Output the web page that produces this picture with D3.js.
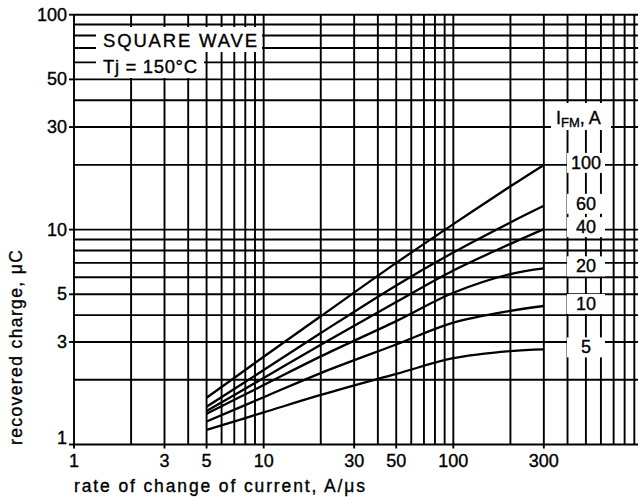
<!DOCTYPE html>
<html><head><meta charset="utf-8">
<script src="https://cdn.jsdelivr.net/npm/d3@7"></script>
<style>
body{margin:0;background:#fff}
svg text{font-family:"Liberation Sans",Arial,Helvetica,sans-serif;fill:#000;stroke:#000;stroke-width:0.35px}
</style>
</head><body>
<svg id="c" width="638" height="498"></svg>
<script>
// ---- data ----
const rate = [5, 10, 20, 50, 100, 200, 300];            // A/us
const currentLabels = ["100", "60", "40", "20", "10", "5"]; // I_FM, A
const q100 = [1.65, 2.56, 3.95, 7.0, 10.6, 15.9, 20.0];
const q60  = [1.50, 2.22, 3.30, 5.5, 7.83, 10.8, 12.9];
const q40  = [1.43, 2.04, 2.91, 4.6, 6.45, 8.58, 10.05];
const q20  = [1.39, 1.89, 2.57, 3.75, 5.08, 6.21, 6.6];
const q10  = [1.28, 1.66, 2.15, 2.92, 3.69, 4.19, 4.41];
const q5   = [1.17, 1.41, 1.70, 2.13, 2.52, 2.72, 2.77];
const xTickLabels = [1, 3, 5, 10, 30, 50, 100, 300];
const yTickLabels = [1, 3, 5, 10, 30, 50, 100];

const seriesValues = [q100, q60, q40, q20, q10, q5];

const svg = d3.select("#c");
const x = d3.scaleLog().domain([1, 1000]).range([74, 643]);
const y = d3.scaleLog().domain([1, 100]).range([444.5, 14.7]);

// grid values
const xGrid = [];
for (let d = 1; d <= 100; d *= 10) for (let k = 1; k <= 9; k++) xGrid.push(d * k);
const yGrid = [];
for (let d = 1; d <= 10; d *= 10) for (let k = 1; k <= 9; k++) yGrid.push(d * k);
yGrid.push(100);

const g = svg.append("g");
g.selectAll("line.v").data(xGrid).join("line")
  .attr("x1", d => x(d)).attr("x2", d => x(d))
  .attr("y1", y(100)).attr("y2", y(1))
  .attr("stroke", "#000").attr("stroke-width", 1.9);
g.selectAll("line.h").data(yGrid).join("line")
  .attr("x1", x(1)).attr("x2", x(1000))
  .attr("y1", d => y(d)).attr("y2", d => y(d))
  .attr("stroke", "#000").attr("stroke-width", 1.9);

// ticks
g.selectAll("line.yt").data(yTickLabels).join("line")
  .attr("x1", x(1) - 5).attr("x2", x(1))
  .attr("y1", d => y(d)).attr("y2", d => y(d))
  .attr("stroke", "#000").attr("stroke-width", 1.9);
g.selectAll("line.xt").data(xTickLabels).join("line")
  .attr("x1", d => x(d)).attr("x2", d => x(d))
  .attr("y1", y(1)).attr("y2", y(1) + 4)
  .attr("stroke", "#000").attr("stroke-width", 1.9);

// white boxes behind annotation text
svg.append("rect").attr("x", 96).attr("y", 27).attr("width", 166).attr("height", 25).attr("fill", "#fff");
svg.append("rect").attr("x", 96).attr("y", 52).attr("width", 108).attr("height", 26).attr("fill", "#fff");
svg.append("text").attr("x", 103).attr("y", 46.5).attr("font-size", 18.5)
  .attr("textLength", 154).attr("lengthAdjust", "spacing").text("SQUARE WAVE");
svg.append("text").attr("x", 103).attr("y", 73).attr("font-size", 18.5)
  .attr("textLength", 94).attr("lengthAdjust", "spacing").text("Tj = 150°C");

// curves
const line = d3.line().x((d, i) => x(rate[i])).y(d => y(d)).curve(d3.curveCatmullRom.alpha(0.5));
svg.append("g").selectAll("path").data(seriesValues).join("path")
  .attr("d", d => line(d)).attr("fill", "none")
  .attr("stroke", "#000").attr("stroke-width", 2.3);

// curve labels
const labX = 586;
svg.append("rect").attr("x", 551).attr("y", 103).attr("width", 60).attr("height", 27).attr("fill", "#fff");
const ifm = svg.append("text").attr("x", 556).attr("y", 123.5).attr("font-size", 18);
ifm.append("tspan").text("I");
ifm.append("tspan").attr("font-size", 13).attr("dy", 3).text("FM");
ifm.append("tspan").attr("dy", -3).text(", A");

const lab = svg.append("g").selectAll("g").data(seriesValues).join("g");
lab.append("rect")
  .attr("x", labX - 19).attr("width", 38).attr("height", 20)
  .attr("y", d => y(d[d.length - 1]) - 12).attr("fill", "#fff");
lab.append("text")
  .attr("x", labX).attr("y", d => y(d[d.length - 1]) - 2)
  .attr("dominant-baseline", "central").attr("text-anchor", "middle")
  .attr("font-size", 18).text((d, i) => currentLabels[i]);

// tick labels
svg.append("g").selectAll("text").data(xTickLabels).join("text")
  .attr("x", d => x(d)).attr("y", 467).attr("text-anchor", "middle")
  .attr("font-size", 18).text(d => d);
svg.append("g").selectAll("text").data(yTickLabels).join("text")
  .attr("x", 67).attr("y", d => y(d) + (d === 1 ? -6.5 : 0))
  .attr("dominant-baseline", "central").attr("text-anchor", "end")
  .attr("font-size", 18).text(d => d);

// axis titles
svg.append("text").attr("x", 74).attr("y", 492).attr("font-size", 17.5)
  .attr("textLength", 291).attr("lengthAdjust", "spacing")
  .text("rate of change of current, A/μs");
svg.append("text").attr("transform", "translate(22,445) rotate(-90)")
  .attr("font-size", 17.5).attr("textLength", 195).attr("lengthAdjust", "spacing")
  .text("recovered charge, μC");
</script>
</body></html>
